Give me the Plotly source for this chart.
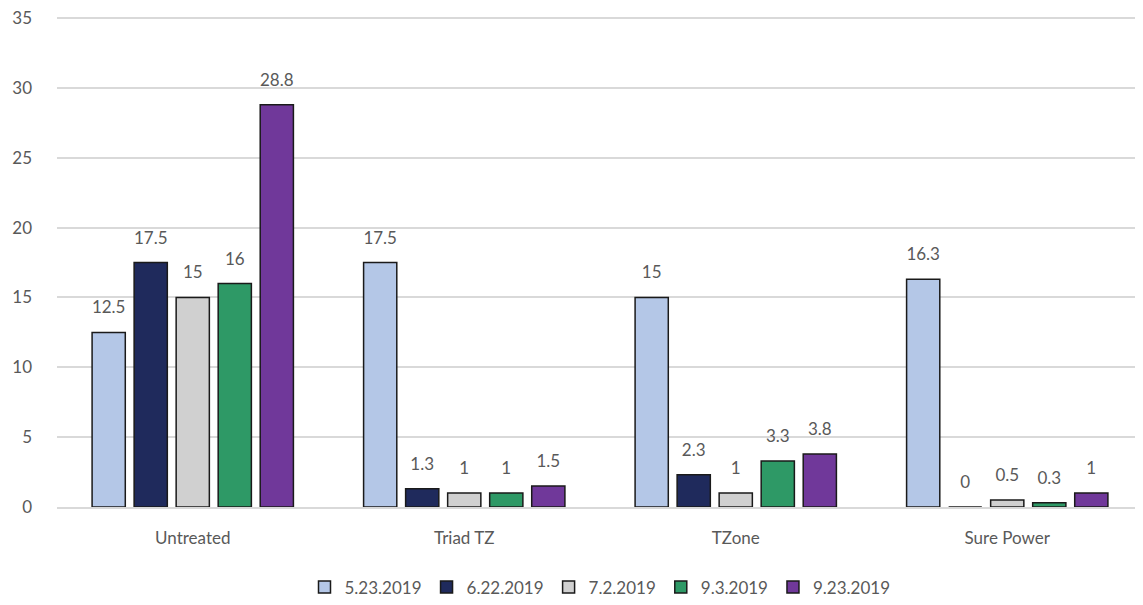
import plotly.graph_objects as go

categories = ["Untreated", "Triad TZ", "TZone", "Sure Power"]
series_names = ["5.23.2019", "6.22.2019", "7.2.2019", "9.3.2019", "9.23.2019"]
s_0523 = [12.5, 17.5, 15, 16.3]
s_0622 = [17.5, 1.3, 2.3, 0]
s_0702 = [15, 1, 1, 0.5]
s_0903 = [16, 1, 3.3, 0.3]
s_0923 = [28.8, 1.5, 3.8, 1]
y_ticks = [0, 5, 10, 15, 20, 25, 30, 35]

colors = ["#B4C7E7", "#1F2A5C", "#D0D0D0", "#2E9966", "#70389A"]
all_series = [s_0523, s_0622, s_0702, s_0903, s_0923]

font_family = "Lato, 'Open Sans', sans-serif"
GAP = 0.226
fig = go.Figure()
for i, (name, vals, col) in enumerate(zip(series_names, all_series, colors)):
    fig.add_trace(go.Bar(
        x=categories, y=vals, name=name,
        offsetgroup=str(i), alignmentgroup="a",
        marker=dict(color=col, line=dict(color="#1a1a1a", width=1.5)),
        hoverinfo="skip",
    ))
for i, (name, vals) in enumerate(zip(series_names, all_series)):
    fig.add_trace(go.Scatter(
        x=categories, y=vals, mode="markers+text", showlegend=False,
        offsetgroup=str(i), alignmentgroup="a",
        marker=dict(size=22, opacity=0),
        text=[f"{v:g}" for v in vals], textposition="top center",
        textfont=dict(size=17, color="#595959", family=font_family),
        cliponaxis=False, hoverinfo="skip",
    ))

fig.update_layout(
    width=1143, height=605,
    margin=dict(l=49, r=8, t=8, b=94),
    plot_bgcolor="white", paper_bgcolor="white",
    barmode="group", bargap=GAP, bargroupgap=0.21,
    scattermode="group", scattergap=GAP,
    font=dict(family=font_family, size=17, color="#595959"),
    showlegend=True,
    legend=dict(orientation="h", x=0.5, xanchor="center", y=-0.127, yanchor="top",
                font=dict(size=17, color="#595959"), traceorder="normal",
                itemwidth=30, tracegroupgap=0),
    xaxis=dict(showgrid=False, showline=True, linecolor="#D9D9D9", linewidth=1.5,
               automargin=False,
               ticks="", ticklabelstandoff=15, tickfont=dict(size=17, color="#595959")),
    yaxis=dict(range=[0, 35.15], tickvals=y_ticks, showgrid=True, gridcolor="#D9D9D9",
               gridwidth=1.5, zeroline=False, showline=False, ticks="",
               automargin=False, ticklabeloverflow="allow",
               ticklabelstandoff=24, tickfont=dict(size=17, color="#595959")),
)

fig.write_html("out.html", config={"displayModeBar": False})
